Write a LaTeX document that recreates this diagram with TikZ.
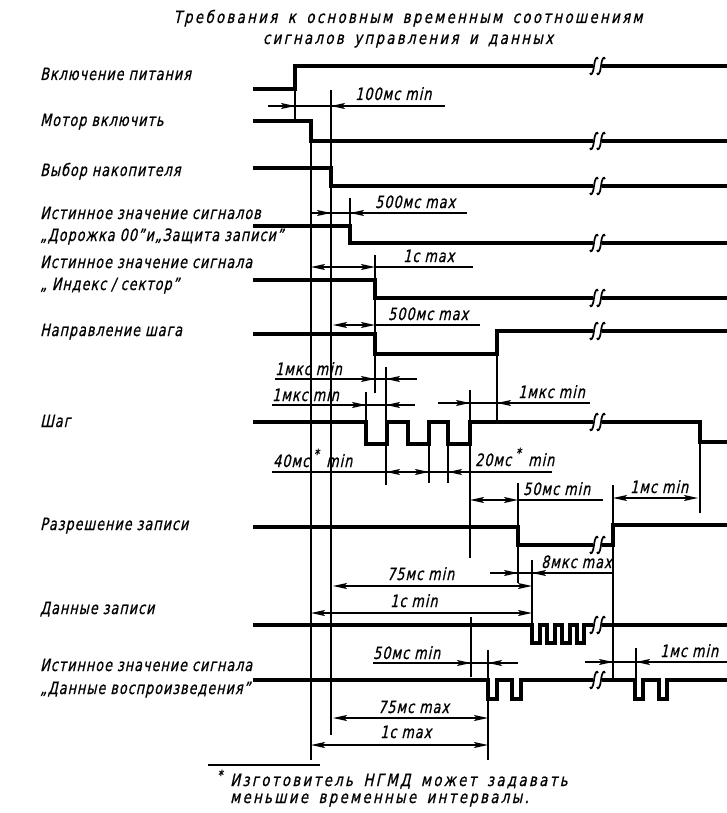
\documentclass[tikz,border=0pt]{standalone}
\usepackage{fontspec}
\setmainfont{DejaVu Sans}[FakeSlant=0.22,FakeStretch=0.75,LetterSpace=6,FakeBold=0.8]
\newfontfamily\widefont{DejaVu Sans}[FakeSlant=0.22,FakeStretch=0.78,LetterSpace=14,WordSpace=1.6,FakeBold=0.8]
\usetikzlibrary{arrows.meta}
\newcommand{\tipR}[2]{\draw[dimln,->] (#1-20,#2)--(#1,#2);}
\newcommand{\tipL}[2]{\draw[dimln,->] (#1+20,#2)--(#1,#2);}
\newcommand{\brkS}[2]{%
  \draw[brkln] (#1+4,#2-7) .. controls (#1+3,#2-10) and (#1+1,#2-8) .. (#1,#2) .. controls (#1-1,#2+8) and (#1-3,#2+10) .. (#1-4,#2+7);}
\newcommand{\brk}[2]{\brkS{#1-3}{#2}\brkS{#1+4}{#2}}
\begin{document}
\begin{tikzpicture}[x=1pt,y=-1pt,
  >={Stealth[length=14pt,width=6pt,inset=3pt]},
  sig/.style={line width=3.2pt, line join=miter},
  thin/.style={line width=1.5pt},
  dimln/.style={line width=1.5pt},
  brkln/.style={line width=1.7pt},
  lbl/.style={anchor=base west, inner sep=0pt, font=\fontsize{17}{19}\selectfont},
  dtx/.style={anchor=base west, inner sep=0pt, font=\fontsize{17}{19}\selectfont},
  star/.style={anchor=base west, inner sep=0pt, font=\fontsize{14}{14}\selectfont},
  ttl/.style={anchor=base, inner sep=0pt, font=\widefont\fontsize{17}{19}\selectfont}]
\useasboundingbox (0,0) rectangle (727,813);
\fill[white] (0,0) rectangle (727,813);

% title
\node[ttl] (title1) at (408,23) {Требования к основным временным соотношениям};
\node[ttl] (title2) at (408,44) {сигналов управления и данных};

% labels
\node[lbl] (l1) at (40,80) {Включение питания};
\node[lbl] (l2) at (40,126) {Мотор включить};
\node[lbl] (l3) at (40,176) {Выбор накопителя};
\node[lbl] (l4a) at (40,219) {Истинное значение сигналов};
\node[lbl] (l4b) at (40,241) {„Дорожка 00”и„Защита записи”};
\node[lbl] (l5a) at (40,268) {Истинное значение сигнала};
\node[lbl] (l5b) at (40,290) {„ Индекс / сектор”};
\node[lbl] (l6) at (40,336) {Направление шага};
\node[lbl] (l7) at (40,427) {Шаг};
\node[lbl] (l8) at (40,530) {Разрешение записи};
\node[lbl] (l9) at (40,614) {Данные записи};
\node[lbl] (l10a) at (40,671) {Истинное значение сигнала};
\node[lbl] (l10b) at (40,694) {„Данные воспроизведения”};

% thin vertical reference lines
\draw[thin] (295,89)--(295,121);
\draw[thin] (331,90)--(331,735);
\draw[thin] (311,121)--(311,760);
\draw[thin] (350,198)--(350,226);
\draw[thin] (375,255)--(375,393);
\draw[thin] (366,392)--(366,422);
\draw[thin] (386,367)--(386,485);
\draw[thin] (429,444)--(429,483);
\draw[thin] (448,444)--(448,483);
\draw[thin] (470,390)--(470,558);
\draw[thin] (497,354)--(497,422);
\draw[thin] (518,483)--(518,583);
\draw[thin] (532,560)--(532,625);
\draw[thin] (613,485)--(613,680);
\draw[thin] (700,442)--(700,513);
\draw[thin] (471,617)--(471,677);
\draw[thin] (488,650)--(488,760);
\draw[thin] (636,648)--(636,697);

% signals
\draw[sig] (253,89)--(295,89)--(295,66)--(593,66); \draw[sig] (602,66)--(730,66); \brk{597}{66}
\draw[sig] (253,121)--(311,121)--(311,141)--(593,141); \draw[sig] (602,141)--(730,141); \brk{597}{141}
\draw[sig] (253,168)--(331,168)--(331,186)--(593,186); \draw[sig] (602,186)--(730,186); \brk{597}{186}
\draw[sig] (253,226)--(350,226)--(350,243)--(593,243); \draw[sig] (602,243)--(730,243); \brk{597}{243}
\draw[sig] (253,280)--(375,280)--(375,298)--(593,298); \draw[sig] (602,298)--(730,298); \brk{597}{298}
\draw[sig] (253,334)--(375,334)--(375,354)--(497,354)--(497,331)--(593,331); \draw[sig] (602,331)--(730,331); \brk{597}{331}
\draw[sig] (253,422)--(366,422)--(366,444)--(387,444)--(387,422)--(408,422)--(408,444)--(429,444)--(429,422)--(448,422)--(448,444)--(470,444)--(470,422)--(593,422);
\draw[sig] (602,422)--(700,422)--(700,442)--(730,442); \brk{597}{422}
\draw[sig] (253,527)--(518,527)--(518,545)--(593,545); \draw[sig] (602,545)--(613,545)--(613,525)--(730,525); \brk{597}{545}
\draw[sig] (253,625)--(532,625)--(532,643)--(540,643)--(540,625)--(547,625)--(547,643)--(555,643)--(555,625)--(562,625)--(562,643)--(570,643)--(570,625)--(577,625)--(577,643)--(584,643)--(584,625)--(593,625);
\draw[sig] (602,625)--(730,625); \brk{597}{625}
\draw[sig] (253,680)--(488,680)--(488,699)--(497,699)--(497,680)--(512,680)--(512,699)--(521,699)--(521,680)--(593,680);
\draw[sig] (602,680)--(635,680)--(635,699)--(643,699)--(643,680)--(659,680)--(659,699)--(667,699)--(667,680)--(730,680); \brk{597}{680}

% dimensions
\draw[dimln] (268,106)--(445,106); \tipR{295}{106} \tipL{331}{106}
\node[dtx] (d1) at (355,100) {100мс min};
\draw[dimln] (310,213)--(467,213); \tipR{331}{213} \tipL{350}{213}
\node[dtx] (d2) at (375,208) {500мс max};
\draw[dimln,<->] (311,267)--(375,267); \draw[dimln] (375,267)--(473,267);
\node[dtx] (d3) at (403,262) {1с max};
\draw[dimln,<->] (333,325)--(375,325); \draw[dimln] (375,325)--(480,325);
\node[dtx] (d4) at (388,320) {500мс max};
\draw[dimln] (275,379)--(417,379); \tipR{375}{379} \tipL{386}{379}
\node[dtx] (d5) at (275,375) {1мкс min};
\draw[dimln] (272,405)--(415,405); \tipR{366}{405} \tipL{386}{405}
\node[dtx] (d6) at (272,401) {1мкс min};
\draw[dimln] (438,403)--(590,403); \tipR{470}{403} \tipL{497}{403}
\node[dtx] (d7) at (518,398) {1мкс min};
\draw[dimln] (272,472)--(552,472); \tipL{386}{472} \tipR{429}{472} \tipL{448}{472}
\node[dtx] (d8) at (273,467) {40мс};
\node[star] (d8s) at ([xshift=4pt,yshift=8pt]d8.base east) {*};
\node[dtx] (d8m) at (326,467) {min};
\node[dtx] (d9) at (475,466) {20мс};
\node[star] (d9s) at ([xshift=4pt,yshift=8pt]d9.base east) {*};
\node[dtx] (d9m) at (528,466) {min};
\draw[dimln,<->] (470,500)--(518,500); \draw[dimln] (518,500)--(603,500);
\node[dtx] (d10) at (523,495) {50мс min};
\draw[dimln,<->] (613,498)--(698,498);
\node[dtx] (d11) at (630,493) {1мс min};
\draw[dimln] (490,573)--(613,573); \tipR{518}{573} \tipL{532}{573}
\node[dtx] (d12) at (541,568) {8мкс max};
\draw[dimln,<->] (333,586)--(532,586);
\node[dtx] (d13) at (387,580) {75мс min};
\draw[dimln,<->] (311,613)--(532,613);
\node[dtx] (d14) at (390,607) {1с min};
\draw[dimln] (373,663)--(518,663); \tipR{471}{663} \tipL{488}{663}
\node[dtx] (d15) at (373,659) {50мс min};
\draw[dimln] (585,662)--(730,662); \tipR{613}{662} \tipL{636}{662}
\node[dtx] (d16) at (660,657) {1мс min};
\draw[dimln,<->] (333,718)--(488,718);
\node[dtx] (d17) at (378,713) {75мс max};
\draw[dimln,<->] (311,745)--(488,745);
\node[dtx] (d18) at (380,738) {1с max};

% footnote
\draw[line width=1.6pt] (208,765)--(320,765);
\node[star] (fa) at (217,780) {*};
\node[anchor=base west, inner sep=0pt, font=\widefont\fontsize{17}{19}\selectfont] (f1) at (230,786) {Изготовитель НГМД может задавать};
\node[anchor=base west, inner sep=0pt, font=\widefont\fontsize{17}{19}\selectfont] (f2) at (230,803) {меньшие временные интервалы.};
\end{tikzpicture}
\end{document}
